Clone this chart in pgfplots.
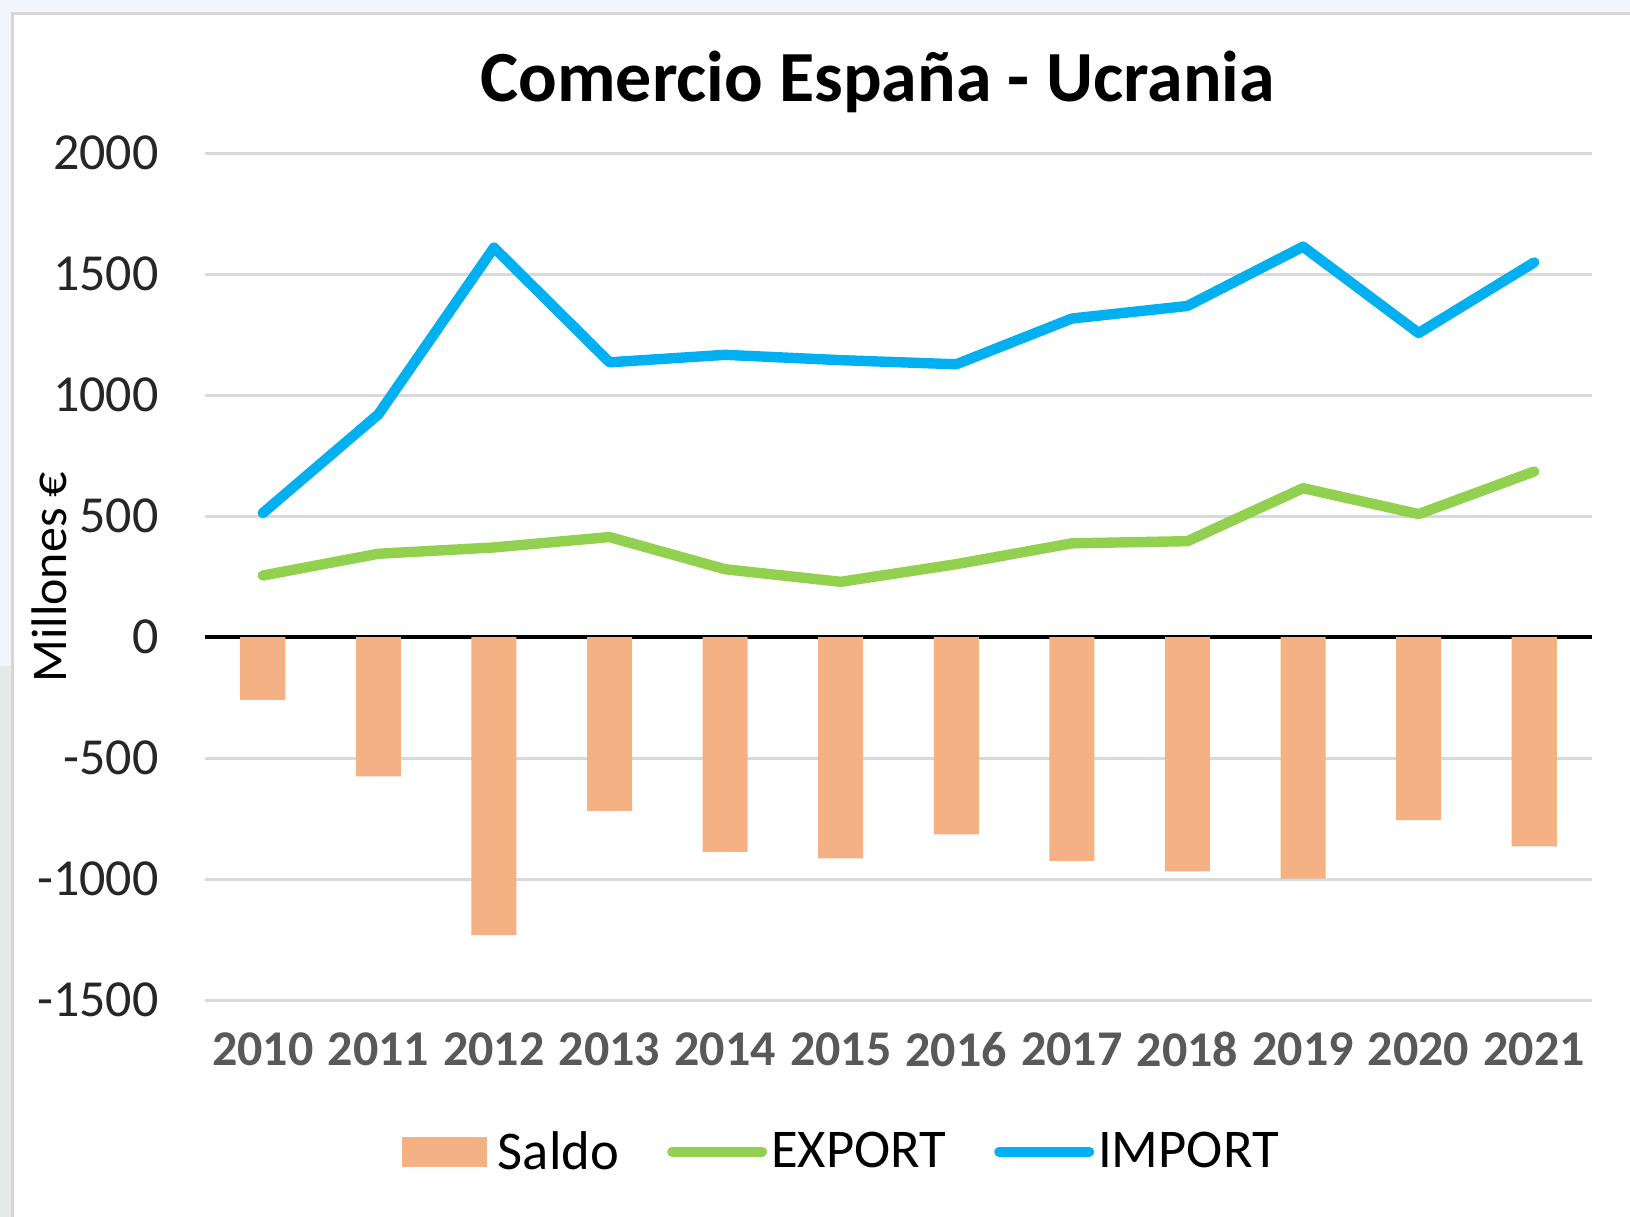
\documentclass[border=0pt]{standalone}
\usepackage{pgfplots}
\pgfplotsset{compat=1.18}
\usepackage{fontspec}
\setmainfont{Carlito}
\definecolor{imp}{HTML}{00B0F0}
\definecolor{expc}{HTML}{92D050}
\definecolor{sal}{HTML}{F4B183}
\definecolor{gridc}{HTML}{D9D9D9}
\definecolor{xlab}{HTML}{595959}
\definecolor{bgc}{HTML}{F2F5F9}
\definecolor{bgc2}{HTML}{E6E9EA}
\definecolor{framec}{HTML}{D6D6D6}
\begin{document}
\begin{tikzpicture}
\fill[bgc] (-102.5pt,-108.5pt) rectangle (712.5pt,500pt);
\fill[bgc2] (-102.5pt,-108.5pt) rectangle (-96pt,167pt);
\fill[white, draw=framec, line width=1.5pt] (-96pt,-130pt) rectangle (730pt,493pt);
\begin{axis}[
  scale only axis, width=693.5pt, height=423.5pt,
  xmin=-0.5, xmax=11.5, ymin=-1500, ymax=2000,
  axis line style={draw=none},
  major tick length=0pt,
  ymajorgrids, grid style={gridc, line width=1.5pt},
  xtick={0,...,11},
  xticklabels={2010,2011,2012,2013,2014,2015,2016,2017,2018,2019,2020,2021},
  ytick={-1500,-1000,-500,0,500,1000,1500,2000},
  yticklabels={-1500,-1000,-500,0,500,1000,1500,2000},
  extra y ticks={0}, extra y tick labels={},
  extra y tick style={grid style={black, line width=1.6pt}},
  yticklabel style={font=\fontsize{26}{30}\selectfont, text=black!85, anchor=east, inner sep=0pt, xshift=-23pt},
  xticklabel style={font=\fontsize{25}{30}\selectfont\bfseries, text=xlab, anchor=north, inner sep=0pt, yshift=-16pt},
  title={\fontsize{36}{40}\selectfont\bfseries Comercio España - Ucrania},
  title style={at={(axis description cs:0.485,1.047)}, anchor=base, inner sep=0pt},
  ylabel={Millones €},
  ylabel style={at={(axis description cs:-0.1125,0.4994)}, anchor=center, rotate=0, font=\fontsize{25}{30}\selectfont, inner sep=0pt},
  legend columns=3,
  legend style={draw=none, fill=none, at={(axis description cs:0.4595,-0.179)}, anchor=center,
    font=\fontsize{27.3}{30}\selectfont,
    /tikz/every even column/.append style={column sep=22pt}},
]
\addplot[ybar, bar width=0.39, fill=sal, draw=none,
  legend image code/.code={\path[fill=sal] (0pt,-7.5pt) rectangle (42.5pt,7.5pt); \path (46pt,0pt);}]
  coordinates {(0,-260) (1,-576) (2,-1232) (3,-718) (4,-888) (5,-915) (6,-816) (7,-925) (8,-968) (9,-998) (10,-757) (11,-865)};
\addlegendentry{Saldo}
\addplot[expc, line width=5.2pt, line cap=round, line join=round,
  legend image code/.code={\draw[expc, line width=5pt, line cap=round] (0pt,0pt) -- (45pt,0pt);}]
  coordinates {(0,254) (1,344) (2,370) (3,413) (4,280) (5,228) (6,301) (7,387) (8,396) (9,615) (10,508) (11,684)};
\addlegendentry{EXPORT}
\addplot[imp, line width=5.2pt, line cap=round, line join=round,
  legend image code/.code={\draw[imp, line width=5pt, line cap=round] (0pt,0pt) -- (45pt,0pt);}]
  coordinates {(0,512) (1,920) (2,1609) (3,1135) (4,1166) (5,1144) (6,1127) (7,1316) (8,1368) (9,1613) (10,1256) (11,1548)};
\addlegendentry{IMPORT}
\end{axis}
\pgfresetboundingbox
\path[use as bounding box] (-102.5pt,-108.5pt) rectangle (712.5pt,500pt);
\end{tikzpicture}
\end{document}
